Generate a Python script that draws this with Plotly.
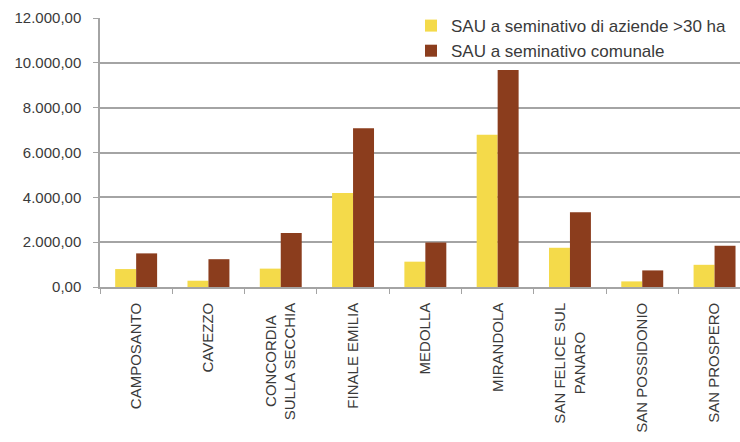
import plotly.graph_objects as go

categories = ["CAMPOSANTO", "CAVEZZO", "CONCORDIA SULLA SECCHIA", "FINALE EMILIA",
              "MEDOLLA", "MIRANDOLA", "SAN FELICE SUL PANARO", "SAN POSSIDONIO",
              "SAN PROSPERO"]
tick_labels = ["CAMPOSANTO", "CAVEZZO", "CONCORDIA" + "\u00a0" * 3 + "<br>SULLA SECCHIA",
               "FINALE EMILIA", "MEDOLLA", "MIRANDOLA",
               "SAN FELICE SUL<br>PANARO" + "\u00a0" * 7, "SAN POSSIDONIO", "SAN PROSPERO"]
sau_aziende_30ha = [800, 280, 820, 4190, 1130, 6790, 1750, 250, 990]
sau_comunale = [1500, 1240, 2410, 7080, 1990, 9680, 3330, 740, 1840]
y_ticks = [0, 2000, 4000, 6000, 8000, 10000, 12000]

YELLOW = "#F4DA4A"
BROWN = "#8B3D1D"
TEXT = "#3a3a3a"
GRID = "#a4a4a4"

fig = go.Figure()
fig.add_trace(go.Bar(x=categories, y=sau_aziende_30ha, name="SAU a seminativo di aziende >30 ha",
                     marker=dict(color=YELLOW, line=dict(width=0))))
fig.add_trace(go.Bar(x=categories, y=sau_comunale, name="SAU a seminativo comunale",
                     marker=dict(color=BROWN, line=dict(width=0))))

fig.update_layout(
    width=740, height=442,
    margin=dict(l=100, r=0, t=18, b=155, autoexpand=False),
    paper_bgcolor="white", plot_bgcolor="white",
    barmode="group", bargap=0.42, bargroupgap=0.0,
    separators=",.",
    font=dict(family="Liberation Sans, Arial, sans-serif", color=TEXT, size=15),
    showlegend=True,
    legend=dict(x=(411 - 100) / 640, y=1.037, xanchor="left", yanchor="top",
                bgcolor="rgba(0,0,0,0)", font=dict(size=17, color=TEXT),
                traceorder="normal", itemwidth=30),
    xaxis=dict(
        range=[-0.5, -0.5 + 640 / 72.3],
        tickmode="array", tickvals=categories, ticktext=tick_labels,
        tickangle=-90, tickson="boundaries", ticks="outside", ticklen=5,
        tickcolor=GRID, showline=True, linecolor=GRID, linewidth=1.5,
        showgrid=False, tickfont=dict(size=15, color=TEXT), ticklabelstandoff=8,
    ),
    yaxis=dict(
        range=[0, 12000], tickvals=y_ticks, tickformat=",.2f",
        ticks="outside", ticklen=5, tickcolor=GRID,
        showline=True, linecolor=GRID, linewidth=1.5,
        showgrid=True, gridcolor=GRID, gridwidth=1.5,
        tickfont=dict(size=15, color=TEXT), ticklabelstandoff=9,
        zeroline=False,
    ),
)

fig.write_html("out.html")
